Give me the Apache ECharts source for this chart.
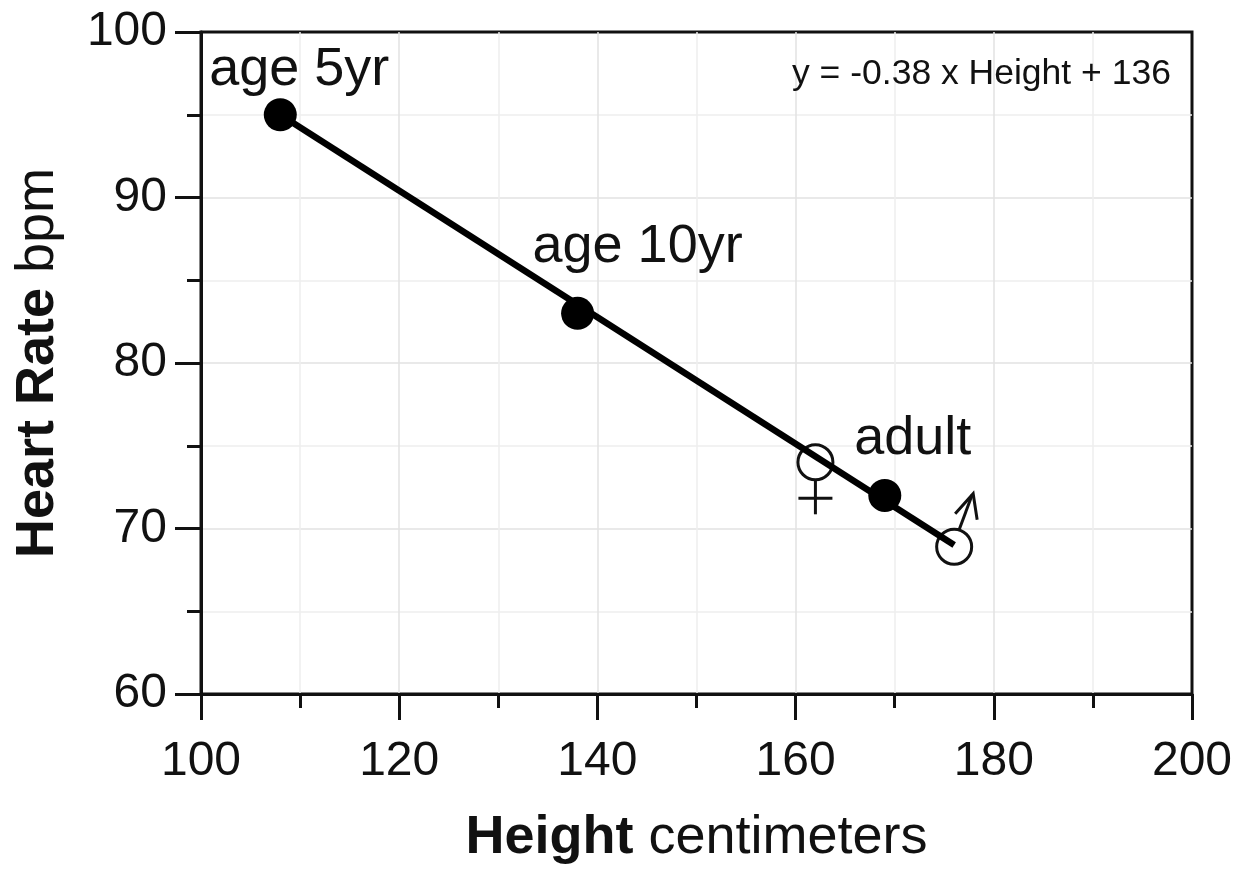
<!DOCTYPE html>
<html><head><meta charset="utf-8">
<style>html,body{margin:0;padding:0;background:#fff}#c{width:1251px;height:870px}</style>
<script src="https://cdn.jsdelivr.net/npm/echarts@6/dist/echarts.min.js"></script>
</head><body><div id="c"></div>
<script>
const filledPoints = [[108,95],[138,83],[169,72]];
const filledLabels = ['age 5yr','age 10yr','adult'];
const openPoints = [[162,74],[176,68.9]];
const fitLine = [[108,95],[176,69]];
const equation = 'y = -0.38 x Height + 136';
const FONT = '"Liberation Sans", Arial, sans-serif';
const INK = '#111';
const labelOffsets = [[19,-45],[60,-66],[28,-56]];
const chart = echarts.init(document.getElementById('c'));
const axisBase = {
  type:'value', nameLocation:'middle',
  axisLine:{show:true,onZero:false,lineStyle:{color:INK,width:3}},
  axisTick:{show:true,inside:false,length:26,lineStyle:{color:INK,width:3}},
  minorTick:{show:true,splitNumber:2,length:14,lineStyle:{color:INK,width:3}},
  splitLine:{show:true,showMinLine:false,showMaxLine:false,lineStyle:{color:'#e2e2e2',width:1.5}},
  minorSplitLine:{show:true,lineStyle:{color:'#eeeeee',width:1.5}},
  axisLabel:{color:INK,fontSize:48,fontFamily:FONT}
};
const nameRich = {b:{fontSize:54,fontWeight:'bold',color:INK,fontFamily:FONT},n:{fontSize:54,color:INK,fontFamily:FONT}};
function sexGlyph(params, api){
  const c = api.coord([api.value(0), api.value(1)]);
  const stroke = {stroke:INK,lineWidth:3,fill:'none'};
  const seg = (a,b)=>({type:'line',shape:{x1:c[0]+a[0],y1:c[1]+a[1],x2:c[0]+b[0],y2:c[1]+b[1]},style:stroke});
  if(params.dataIndex===0){
    return {type:'group',children:[seg([0,17],[0,52]),seg([-17,36],[17,36])]};
  }
  return {type:'group',children:[
    seg([5,-17],[18,-52]),
    {type:'polyline',shape:{points:[[c[0]+1,c[1]-33],[c[0]+19,c[1]-53],[c[0]+23,c[1]-27]]},style:stroke}
  ]};
}
chart.setOption({
  animation:false,
  backgroundColor:'#fff',
  grid:{left:201,top:32,width:991,height:662,outerBoundsMode:'none',show:true,borderColor:INK,borderWidth:3,backgroundColor:'transparent'},
  xAxis:Object.assign({},axisBase,{min:100,max:200,interval:20,
    axisLabel:Object.assign({},axisBase.axisLabel,{margin:44}),
    name:'{b|Height}{n|\u00a0centimeters}',nameGap:117,
    nameTextStyle:{rich:nameRich}}),
  yAxis:Object.assign({},axisBase,{min:60,max:100,interval:10,
    axisLabel:Object.assign({},axisBase.axisLabel,{margin:34,padding:[4,0,0,0]}),
    name:'{b|Heart Rate}{n|\u00a0bpm}',nameGap:136,
    nameTextStyle:{rich:nameRich}}),
  series:[
    {type:'custom',z:1,data:openPoints,renderItem:sexGlyph,silent:true},
    {type:'scatter',z:2,data:openPoints,symbol:'circle',symbolSize:35,itemStyle:{color:'#fff',opacity:1,borderColor:INK,borderWidth:3}},
    {type:'line',z:3,data:fitLine,showSymbol:false,lineStyle:{color:'#000',width:6.5,cap:'butt',opacity:1}},
    {type:'scatter',z:4,symbol:'circle',symbolSize:33,itemStyle:{color:'#000',opacity:1},
      data:filledPoints.map((p,i)=>({value:p,label:{show:true,position:'inside',formatter:filledLabels[i],offset:labelOffsets[i],color:INK,fontSize:54,fontFamily:FONT,opacity:1}}))}
  ],
  graphic:[
    {type:'text',z:100,left:792,top:56,style:{text:equation,font:'35.5px '+FONT,fill:INK}}
  ]
});
</script></body></html>
